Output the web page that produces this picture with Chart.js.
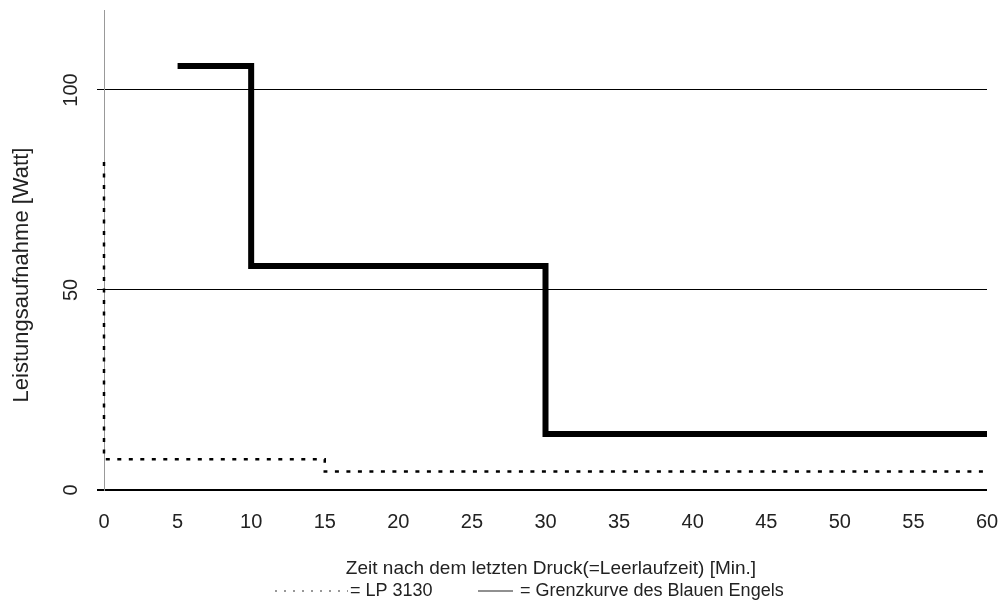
<!DOCTYPE html>
<html lang="de">
<head>
<meta charset="utf-8">
<title>Leistungsaufnahme</title>
<script src="https://cdn.jsdelivr.net/npm/chart.js@4"></script>
<style>
    html, body { margin: 0; padding: 0; background: #fff; }
    #box { width: 1004px; height: 603px; position: relative; }
</style>
</head>
<body>
<div id="box"><canvas id="leistung"></canvas></div>
<script>
// Daten
const grenzZeit = [5, 10, 30, 60];
const grenzWatt = [106, 56, 14, 14];
const lpZeit = [0, 0, 15, 60];
const lpWatt = [82, 7.7, 4.6, 4.6];
const yTickWerte = [0, 50, 100];
const xTickSchritt = 5;

const schrift = "'Liberation Sans', Arial, Helvetica, sans-serif";

function punkte(xs, ys) {
    return xs.map((x, i) => ({ x: x, y: ys[i] }));
}

// Eigene Beschriftungen: gedrehte Y-Werte, Achsentitel, Legende
const beschriftung = {
    id: 'beschriftung',
    afterDraw(chart) {
        const ctx = chart.ctx;
        const y = chart.scales.y;
        ctx.save();
        ctx.fillStyle = '#222';

        // Y-Werte gedreht
        ctx.font = '20px ' + schrift;
        ctx.textAlign = 'center';
        ctx.textBaseline = 'middle';
        yTickWerte.forEach(v => {
            ctx.save();
            ctx.translate(71, y.getPixelForValue(v));
            ctx.rotate(-Math.PI / 2);
            ctx.fillText(String(v), 0, 0);
            ctx.restore();
        });

        // Y-Titel
        ctx.save();
        ctx.font = '22px ' + schrift;
        ctx.translate(22, 275);
        ctx.rotate(-Math.PI / 2);
        ctx.fillText('Leistungsaufnahme [Watt]', 0, 0);
        ctx.restore();

        // X-Titel
        ctx.font = '19px ' + schrift;
        ctx.fillText('Zeit nach dem letzten Druck(=Leerlaufzeit) [Min.]', 551, 569);

        // Legende
        const ds = chart.data.datasets;
        ctx.font = '18px ' + schrift;
        ctx.textAlign = 'left';
        ctx.strokeStyle = '#333';
        ctx.lineWidth = 1.2;
        ctx.setLineDash([2, 7]);
        ctx.beginPath();
        ctx.moveTo(275, 591);
        ctx.lineTo(348, 591);
        ctx.stroke();
        ctx.fillText('= ' + ds[1].label, 350, 591);

        ctx.setLineDash([]);
        ctx.strokeStyle = '#222';
        ctx.beginPath();
        ctx.moveTo(478, 591);
        ctx.lineTo(513, 591);
        ctx.stroke();
        ctx.fillText('= ' + ds[0].label, 520, 591);

        ctx.restore();
    }
};

new Chart(document.getElementById('leistung'), {
    type: 'line',
    data: {
        datasets: [
            {
                label: 'Grenzkurve des Blauen Engels',
                data: punkte(grenzZeit, grenzWatt),
                borderColor: '#000',
                borderWidth: 6,
                stepped: true,
                pointRadius: 0,
                borderJoinStyle: 'miter',
                borderCapStyle: 'butt',
                clip: false
            },
            {
                label: 'LP 3130',
                data: punkte(lpZeit, lpWatt),
                borderColor: '#000',
                borderWidth: 2.5,
                borderDash: [4, 7.5],
                stepped: true,
                pointRadius: 0,
                clip: false
            }
        ]
    },
    options: {
        responsive: true,
        maintainAspectRatio: false,
        animation: false,
        layout: { padding: { left: 0, top: 10, right: 17, bottom: 0 } },
        plugins: {
            legend: { display: false },
            tooltip: { enabled: false }
        },
        scales: {
            x: {
                type: 'linear',
                min: 0,
                max: 60,
                afterFit: s => {
                    s.height = 113;
                    s.paddingLeft = 0;
                    s.paddingRight = 0;
                },
                grid: { display: false, drawTicks: false },
                border: { display: false },
                ticks: {
                    stepSize: xTickSchritt,
                    padding: 20,
                    color: '#222',
                    font: { size: 20, family: schrift }
                }
            },
            y: {
                type: 'linear',
                min: 0,
                max: 120,
                afterFit: s => { s.width = 104; },
                afterBuildTicks: s => { s.ticks = yTickWerte.map(v => ({ value: v })); },
                ticks: { display: false },
                grid: {
                    color: '#000',
                    tickColor: '#000',
                    tickLength: 7,
                    lineWidth: c => (c.tick && c.tick.value === 0 ? 2 : 1)
                },
                border: { display: true, color: '#999', width: 1 }
            }
        }
    },
    plugins: [beschriftung]
});
</script>
</body>
</html>
